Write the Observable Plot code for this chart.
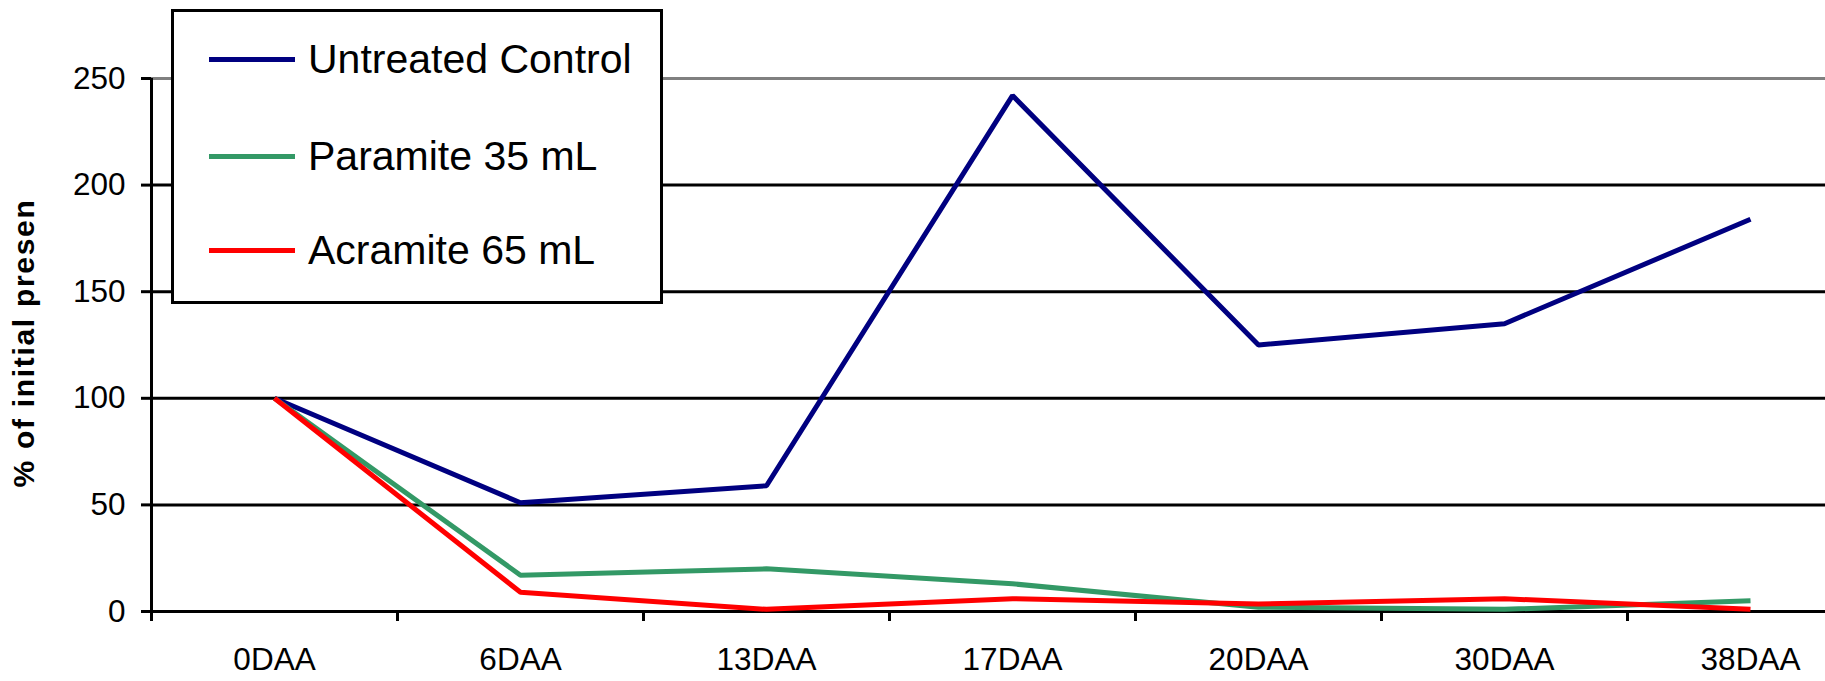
<!DOCTYPE html>
<html><head><meta charset="utf-8">
<script src="https://cdn.jsdelivr.net/npm/d3@7"></script>
<script src="https://cdn.jsdelivr.net/npm/@observablehq/plot@0.6"></script>
<style>
html,body{margin:0;padding:0;background:#fff;overflow:hidden;}
#wrap{position:relative;width:1825px;height:681px;overflow:hidden;font-family:"Liberation Sans",Arial,sans-serif;}
#legend{position:absolute;left:171px;top:9px;width:492px;height:295px;box-sizing:border-box;border:3px solid #000;background:#fff;}
.row{position:absolute;left:35px;height:50px;display:flex;align-items:center;white-space:nowrap;}
.sw{width:86px;height:5px;margin-right:13px;}
.lt{font-size:41px;color:#000;line-height:50px;}
</style></head>
<body><div id="wrap"><div id="chart"></div><div id="legend"></div></div>
<script>
const categories = ["0DAA","6DAA","13DAA","17DAA","20DAA","30DAA","38DAA"];
const untreated = [100, 51, 59, 242, 125, 135, 184];
const paramite  = [100, 17, 20, 13, 2, 1, 5];
const acramite  = [100, 9, 1, 6, 3.5, 6, 1];
const seriesNames = ["Untreated Control","Paramite 35 mL","Acramite 65 mL"];
const seriesColors = ["#000080","#339966","#FF0000"];
const yTicks = [0, 50, 100, 150, 200, 250];
const yLabel = "% of initial presen";

const seriesValues = [untreated, paramite, acramite];
const data = seriesValues.flatMap((vals, s) => vals.map((v, i) => ({series: seriesNames[s], i, value: v})));

const chart = Plot.plot({
  width: 1825, height: 681,
  marginLeft: 151, marginRight: -48, marginTop: 78, marginBottom: 70,
  x: {domain: [0, categories.length]},
  y: {domain: [0, 250]},
  color: {domain: seriesNames, range: seriesColors},
  style: {fontFamily: '"Liberation Sans", Arial, sans-serif', fontSize: "31.5px", color: "#000", background: "#fff"},
  marks: [
    Plot.ruleY(yTicks.filter(d => d > 0 && d < 250), {stroke: "#000", strokeWidth: 3}),
    Plot.ruleY([250], {stroke: "#808080", strokeWidth: 3}),
    Plot.axisY({ticks: yTicks, tickSize: 10, tickPadding: 16, strokeWidth: 3, label: null, fontSize: 31.5}),
    Plot.axisX({ticks: d3.range(0, categories.length + 1), tickSize: 10, tickFormat: () => "", strokeWidth: 3, label: null}),
    Plot.axisX({ticks: categories.map((d, i) => i + 0.5), tickSize: 0, tickPadding: 36, tickFormat: v => categories[Math.floor(v)], label: null, fontSize: 31.5}),
    Plot.ruleX([0], {y1: 0, y2: 250, stroke: "#000", strokeWidth: 3}),
    Plot.ruleY([0], {stroke: "#000", strokeWidth: 3}),
    Plot.lineY(data, {x: d => d.i + 0.5, y: "value", stroke: "series", strokeWidth: 5, strokeLinecap: "butt", strokeLinejoin: "miter"}),
    Plot.text([yLabel], {frameAnchor: "bottom-left", dx: -118, dy: -124, rotate: -90, textAnchor: "start", fontWeight: "bold", fontSize: 30, fill: "#000"})
  ]
});
d3.select(chart).selectAll("text").filter(function(){ return this.textContent === yLabel; }).attr("letter-spacing", "1.7px");
document.getElementById("chart").appendChild(chart);

const legend = document.getElementById("legend");
const centers = [47, 144, 238];
seriesNames.forEach((name, k) => {
  const row = document.createElement("div");
  row.className = "row";
  row.style.top = (centers[k] - 25) + "px";
  row.innerHTML = `<div class="sw" style="background:${seriesColors[k]}"></div><div class="lt">${name}</div>`;
  legend.appendChild(row);
});
</script></body></html>
